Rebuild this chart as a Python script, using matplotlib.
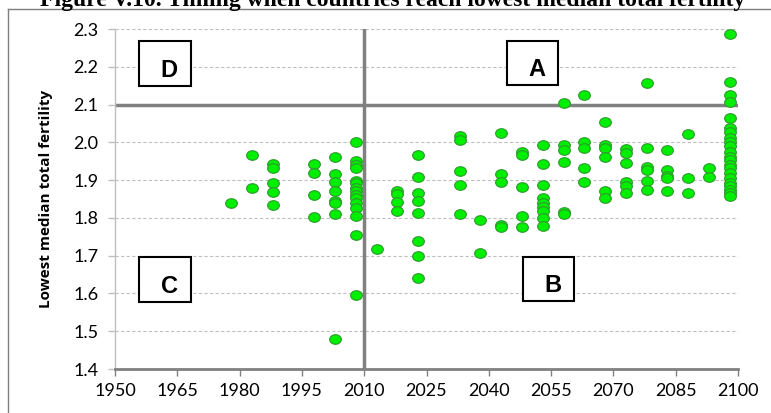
import matplotlib
matplotlib.use("Agg")
import matplotlib.pyplot as plt
from matplotlib.markers import MarkerStyle
from matplotlib.transforms import Affine2D
from matplotlib.patches import Rectangle
from matplotlib.lines import Line2D

title = "Figure V.10. Timing when countries reach lowest median total fertility"
y_label = "Lowest median total fertility"
x_ticks = [1950, 1965, 1980, 1995, 2010, 2025, 2040, 2055, 2070, 2085, 2100]
y_ticks = [1.4, 1.5, 1.6, 1.7, 1.8, 1.9, 2.0, 2.1, 2.2, 2.3]
quadrant_labels = ["D", "A", "C", "B"]

# year at which lowest median total fertility is reached, and its value
years = (
    [1978]
    + [1983] * 2
    + [1988] * 5
    + [1998] * 4
    + [2003] * 8
    + [2008] * 15
    + [2013]
    + [2018] * 4
    + [2023] * 8
    + [2033] * 5
    + [2038] * 2
    + [2043] * 5
    + [2048] * 5
    + [2053] * 9
    + [2058] * 6
    + [2063] * 5
    + [2068] * 6
    + [2073] * 6
    + [2078] * 6
    + [2083] * 5
    + [2088] * 3
    + [2093] * 2
    + [2098] * 22
)
fertility = (
    [1.840]
    + [1.967, 1.879]
    + [1.943, 1.931, 1.892, 1.869, 1.834]
    + [1.942, 1.919, 1.860, 1.802]
    + [1.961, 1.916, 1.896, 1.870, 1.845, 1.839, 1.810, 1.480]
    + [2.002, 1.951, 1.940, 1.931, 1.897, 1.892, 1.879, 1.870, 1.861, 1.852,
       1.840, 1.827, 1.804, 1.754, 1.595]
    + [1.717]
    + [1.870, 1.864, 1.841, 1.819]
    + [1.967, 1.909, 1.865, 1.845, 1.812, 1.739, 1.699, 1.640]
    + [2.018, 2.005, 1.925, 1.887, 1.810]
    + [1.795, 1.707]
    + [2.024, 1.916, 1.896, 1.781, 1.775]
    + [1.975, 1.967, 1.883, 1.806, 1.777]
    + [1.993, 1.943, 1.887, 1.852, 1.839, 1.830, 1.819, 1.799, 1.779]
    + [2.103, 1.993, 1.980, 1.947, 1.815, 1.811]
    + [2.125, 2.002, 1.984, 1.933, 1.896]
    + [2.053, 1.993, 1.984, 1.962, 1.872, 1.852]
    + [1.982, 1.971, 1.945, 1.896, 1.885, 1.865]
    + [2.158, 1.986, 1.936, 1.927, 1.898, 1.874]
    + [1.980, 1.927, 1.912, 1.905, 1.870]
    + [2.021, 1.905, 1.865]
    + [1.931, 1.909]
    + [2.287, 2.161, 2.125, 2.106, 2.064, 2.037, 2.028, 2.011, 2.002, 1.989,
       1.975, 1.962, 1.953, 1.940, 1.931, 1.918, 1.905, 1.892, 1.885, 1.874,
       1.865, 1.858]
)
replacement_level = 2.1
reference_year = 2010

W, H = 771, 413
fig = plt.figure(figsize=(W / 100, H / 100), dpi=100)
ax = fig.add_axes([115 / W, 1 - 369 / H, (738 - 115) / W, (369 - 29) / H])

# outer frame (left and top edges visible)
fig.add_artist(Line2D([8 / W, 8 / W], [0, 1 - 9 / H], transform=fig.transFigure,
                      color="#7f7f7f", lw=1.0))
fig.add_artist(Line2D([8 / W, 1], [1 - 9 / H, 1 - 9 / H], transform=fig.transFigure,
                      color="#7f7f7f", lw=1.0))

# title (clipped at the top in the reference)
fig.text(393 / W, 1 - 6 / H, title, ha="center", va="baseline",
         fontsize=17, fontweight="bold", family="Liberation Serif")

ax.set_xlim(1950, 2100)
ax.set_ylim(1.4, 2.3)
ax.set_xticks(x_ticks)
ax.set_yticks(y_ticks)
ax.set_xticklabels([str(t) for t in x_ticks])
ax.set_yticklabels([f"{t:.1f}" for t in y_ticks])
ax.grid(axis="y", color="#c0c0c0", linestyle=(0, (3, 2)), lw=0.8)
ax.set_axisbelow(True)

for s in ["top", "right"]:
    ax.spines[s].set_visible(False)
ax.spines["left"].set_color("#bfbfbf")
ax.spines["left"].set_linewidth(1.0)
ax.spines["bottom"].set_color("#808080")
ax.spines["bottom"].set_linewidth(2.0)
ax.tick_params(axis="x", direction="out", length=5, width=1, color="#808080",
               labelsize=13, pad=5)
ax.tick_params(axis="y", direction="out", length=5, width=1, color="#bfbfbf",
               labelsize=13, pad=7)
for lab in ax.get_xticklabels() + ax.get_yticklabels():
    lab.set_family("Lato")

ax.set_ylabel(y_label, fontsize=11, fontweight="bold", family="Open Sans")
ax.yaxis.set_label_coords(-0.0995, 0.5)

ax.axhline(replacement_level, color="#808080", lw=2.5, zorder=2)
ax.axvline(reference_year, color="#808080", lw=2.5, zorder=2)

marker = MarkerStyle("o", transform=Affine2D().scale(1.22, 1.0))
ax.scatter(years, fertility, marker=marker, s=48, facecolor="#00ee00",
           edgecolor="#2f9a2f", linewidths=0.8, zorder=3)

# quadrant boxes (pixel positions)
boxes = [(139, 41, 191, 86), (507, 41, 558, 85), (139, 257, 191, 302), (523, 257, 574, 301)]
for (x0, y0, x1, y1), lab in zip(boxes, quadrant_labels):
    fig.add_artist(Rectangle((x0 / W, 1 - y1 / H), (x1 - x0) / W, (y1 - y0) / H,
                             transform=fig.transFigure, facecolor="white",
                             edgecolor="black", lw=1.5, zorder=5))
    fig.text((x0 + x1) / 2 / W + 4 / W, 1 - (y1 - 9) / H, lab, ha="center",
             va="baseline", fontsize=17, fontweight="bold",
             family="Liberation Sans", zorder=6)

fig.savefig("out.png", dpi=100)
